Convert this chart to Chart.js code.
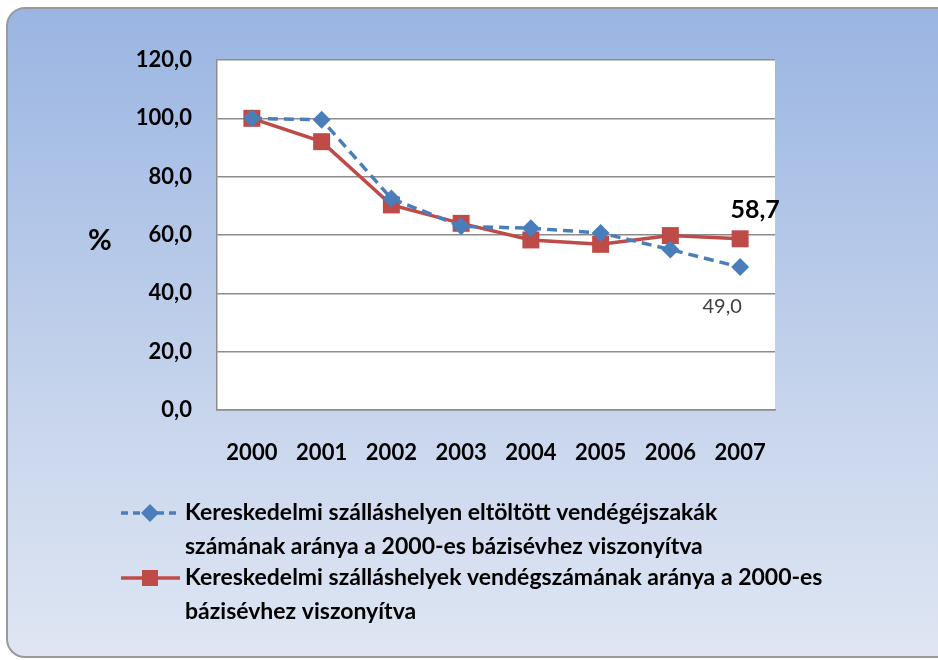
<!DOCTYPE html>
<html>
<head>
<meta charset="utf-8">
<script src="https://cdn.jsdelivr.net/npm/chart.js"></script>
<style>
  html, body { margin: 0; padding: 0; background: #ffffff; }
  #wrap { width: 938px; height: 660px; position: relative; }
</style>
</head>
<body>
<div id="wrap"><canvas id="chart" width="938" height="660"></canvas></div>
<script>
const years = ['2000', '2001', '2002', '2003', '2004', '2005', '2006', '2007'];
const nightsValues = [100.0, 99.5, 72.5, 63.0, 62.3, 60.7, 55.0, 49.0];
const guestsValues = [100.0, 92.0, 70.3, 64.0, 58.3, 56.8, 59.8, 58.7];
const nightsLegend = ['Kereskedelmi szálláshelyen eltöltött vendégéjszakák', 'számának aránya a 2000-es bázisévhez viszonyítva'];
const guestsLegend = ['Kereskedelmi szálláshelyek vendégszámának aránya a 2000-es', 'bázisévhez viszonyítva'];

const FONT = 'Lato, "Open Sans", sans-serif';
const BLUE = '#4a7ebb';
const RED = '#be4b48';

function fmt(v) {
    return v.toFixed(1).replace('.', ',');
}

// panel background with the rounded frame
const panelPlugin = {
    id: 'panel',
    beforeDraw(chart) {
        const ctx = chart.ctx;
        ctx.save();
        ctx.fillStyle = '#ffffff';
        ctx.fillRect(0, 0, chart.width, chart.height);
        const x = 7, y = 8, w = 950, h = 649, r = 18;
        const g = ctx.createLinearGradient(0, y, 0, y + h);
        g.addColorStop(0, '#9ab5e2');
        g.addColorStop(0.6, '#c6d4ec');
        g.addColorStop(1, '#dfe6f3');
        ctx.beginPath();
        ctx.roundRect(x, y, w, h, r);
        ctx.fillStyle = g;
        ctx.fill();
        ctx.lineWidth = 2;
        ctx.strokeStyle = '#9a9a9a';
        ctx.stroke();
        const a = chart.chartArea;
        ctx.fillStyle = '#ffffff';
        ctx.fillRect(a.left, a.top, a.right - a.left, a.bottom - a.top);
        ctx.restore();
    },
    afterDraw(chart) {
        const ctx = chart.ctx;
        ctx.save();
        // % axis title
        ctx.fillStyle = '#000000';
        ctx.font = 'bold 29px ' + FONT;
        ctx.textAlign = 'center';
        ctx.textBaseline = 'middle';
        ctx.fillText('%', 100, 241);

        // value labels on the last points
        const last = years.length - 1;
        const pRed = chart.getDatasetMeta(1).data[last];
        const pBlue = chart.getDatasetMeta(0).data[last];
        ctx.font = 'bold 25px ' + FONT;
        ctx.fillText(fmt(guestsValues[last]), pRed.x + 15, pRed.y - 29);
        ctx.font = '20px ' + FONT;
        ctx.fillStyle = '#404040';
        ctx.fillText(fmt(nightsValues[last]), pBlue.x - 18, pBlue.y + 39);

        // legend
        const entries = [
            { lines: nightsLegend, color: BLUE, dash: [7, 5], marker: 'diamond', y: 513 },
            { lines: guestsLegend, color: RED, dash: [], marker: 'square', y: 578 }
        ];
        entries.forEach(e => {
            ctx.save();
            ctx.strokeStyle = e.color;
            ctx.lineWidth = 3.5;
            ctx.setLineDash(e.dash);
            ctx.beginPath();
            ctx.moveTo(121, e.y);
            ctx.lineTo(180, e.y);
            ctx.stroke();
            ctx.setLineDash([]);
            ctx.fillStyle = e.color;
            if (e.marker === 'diamond') {
                ctx.beginPath();
                ctx.moveTo(150, e.y - 9);
                ctx.lineTo(159, e.y);
                ctx.lineTo(150, e.y + 9);
                ctx.lineTo(141, e.y);
                ctx.closePath();
                ctx.fill();
            } else {
                ctx.fillRect(142, e.y - 8, 16, 16);
            }
            ctx.restore();
            ctx.fillStyle = '#000000';
            ctx.font = 'bold 23px ' + FONT;
            ctx.textAlign = 'left';
            ctx.textBaseline = 'middle';
            e.lines.forEach((t, i) => ctx.fillText(t, 185, e.y + i * 34));
        });
        ctx.restore();
    }
};

const ctx = document.getElementById('chart').getContext('2d');
new Chart(ctx, {
    type: 'line',
    data: {
        labels: years,
        datasets: [{
            label: nightsLegend.join(' '),
            data: nightsValues,
            borderColor: BLUE,
            backgroundColor: BLUE,
            borderWidth: 3.5,
            borderDash: [10, 6],
            pointStyle: 'rectRot',
            pointRadius: 9,
            pointHoverRadius: 9,
            pointBorderWidth: 0,
            tension: 0
        }, {
            label: guestsLegend.join(' '),
            data: guestsValues,
            borderColor: RED,
            backgroundColor: RED,
            borderWidth: 3.5,
            pointStyle: 'rect',
            pointRadius: 12,
            pointHoverRadius: 12,
            pointBorderWidth: 0,
            tension: 0
        }]
    },
    options: {
        responsive: false,
        animation: false,
        events: [],
        layout: { padding: { left: 117, right: 163, top: 60, bottom: 190 } },
        plugins: {
            legend: { display: false },
            tooltip: { enabled: false }
        },
        scales: {
            x: {
                offset: true,
                grid: { display: false, drawTicks: false },
                border: { display: true, color: '#8c8c8c', width: 1.5 },
                ticks: {
                    color: '#000000',
                    padding: 30,
                    font: { family: FONT, size: 22, weight: 'bold' },
                    maxRotation: 0
                },
                afterFit(scale) { scale.height = 60; }
            },
            y: {
                min: 0,
                max: 120,
                grid: { color: '#8c8c8c', lineWidth: 1.5, drawTicks: false },
                border: { display: true, color: '#8c8c8c', width: 1.5 },
                ticks: {
                    stepSize: 20,
                    color: '#000000',
                    padding: 25,
                    font: { family: FONT, size: 22, weight: 'bold' },
                    callback: v => fmt(v)
                },
                afterFit(scale) { scale.width = 100; }
            }
        }
    },
    plugins: [panelPlugin]
});
</script>
</body>
</html>
